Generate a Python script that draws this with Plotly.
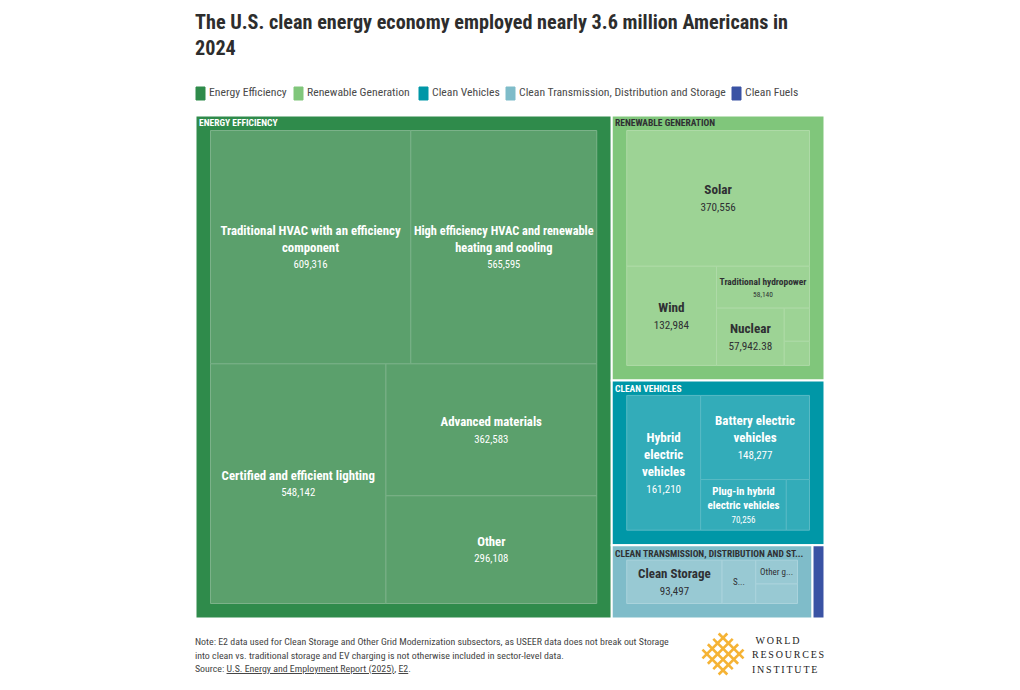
import plotly.graph_objects as go

W, H = 1020, 690
NARROW = "Roboto Condensed, Roboto, sans-serif"
DARK = "#2f3033"

# sectors
sectors = [
    "Energy Efficiency",
    "Renewable Generation",
    "Clean Vehicles",
    "Clean Transmission, Distribution and Storage",
    "Clean Fuels",
]
sector_headers = [
    "ENERGY EFFICIENCY",
    "RENEWABLE GENERATION",
    "CLEAN VEHICLES",
    "CLEAN TRANSMISSION, DISTRIBUTION AND ST...",
]
sector_colors = ["#2f8b4b", "#80c67b", "#0097a7", "#7fbcc9", "#3a53a4"]
leaf_colors = ["#5ba06c", "#9dd395", "#33acb9", "#98c9d3", "#3a53a4"]
line_colors = ["#7bb289", "#aedaa7", "#58bac5", "#aad3dc", "#ffffff"]
header_colors = ["#ffffff", DARK, "#ffffff", DARK]
leaf_text_colors = ["#ffffff", DARK, "#ffffff", DARK, DARK]

# subsectors, estimated for the ones with no visible number
ee_names = [
    "Traditional HVAC with an efficiency<br>component",
    "High efficiency HVAC and renewable<br>heating and cooling",
    "Certified and efficient lighting",
    "Advanced materials",
    "Other",
]
ee_values = [609316, 565595, 548142, 362583, 296108]
# the value 1 entry is an invisible spacer, it makes squarify close the hydropower row
rg_names = ["Solar", "Wind", "Traditional hydropower", None, "Nuclear", "", ""]
rg_values = [370556, 132984, 58140, 1, 57942.38, 12500, 9100]
cv_names = ["Hybrid<br>electric<br>vehicles", "Battery electric<br>vehicles", "Plug-in hybrid<br>electric vehicles", ""]
cv_values = [161210, 148277, 70256, 19000]
ct_names = ["Clean Storage", "S...", "Other g...", ""]
ct_values = [93497, 33000, 22500, 18500]
cf_value = 10000

ee_sizes = [12.8, 12.8, 12.8, 12.8, 12.8]
rg_sizes = [13.2, 13.2, 9.5, 0, 13.2, 9, 9]
cv_sizes = [13, 13, 11, 9]
ct_sizes = [13, 9, 9, 9]
groups = [
    (ee_names, ee_values, ee_sizes),
    (rg_names, rg_values, rg_sizes),
    (cv_names, cv_values, cv_sizes),
    (ct_names, ct_values, ct_sizes),
]

# note and source
note_lines = [
    "Note: E2 data used for Clean Storage and Other Grid Modernization subsectors, as USEER data does not break out Storage",
    "into clean vs. traditional storage and EV charging is not otherwise included in sector-level data.",
    "Source: <u>U.S. Energy and Employment Report (2025)</u>, <u>E2</u>.",
]
logo_words = ["WORLD", "RESOURCES", "INSTITUTE"]


def fmt(v):
    return f"{v:,.2f}" if v != int(v) else f"{int(v):,}"


def leaf_text(name, value, size):
    if not name:
        return ""
    if "..." in name:
        return name
    return f"<b>{name}</b><br><span style='font-size:{size - 2}px'>{fmt(value)}</span>"


# build the hierarchy
ids, labels, parents, values, colors, texts = ["root"], [""], [""], [0], ["rgba(0,0,0,0)"], [""]
line_w, line_c, font_c, font_s = [0], ["rgba(0,0,0,0)"], [DARK], [10]

for i, (names, vals, sizes) in enumerate(groups):
    ids.append(sectors[i])
    # plotly centres branch labels, the headers go in as annotations
    labels.append("")
    parents.append("root")
    values.append(sum(vals))
    colors.append(sector_colors[i])
    texts.append("")
    line_w.append(2)
    line_c.append("#ffffff")
    font_c.append(DARK)
    font_s.append(10)
    for j, (n, v, s) in enumerate(zip(names, vals, sizes)):
        ids.append(f"{sectors[i]}-{j}")
        labels.append(n or f"{sectors[i]} {j}")
        parents.append(sectors[i])
        values.append(v)
        colors.append(leaf_colors[i])
        texts.append(leaf_text(n, v, s))
        line_w.append(0 if n is None else 1)
        line_c.append(line_colors[i])
        font_c.append(leaf_text_colors[i])
        font_s.append(s or 9)

ids.append(sectors[4])
labels.append(sectors[4])
parents.append("root")
values.append(cf_value)
colors.append(sector_colors[4])
texts.append("")
line_w.append(2)
line_c.append("#ffffff")
font_c.append(DARK)
font_s.append(10)
values[0] = sum(values[i] for i, p in enumerate(parents) if p == "root")

PAD = 15
fig = go.Figure(
    go.Treemap(
        ids=ids,
        labels=labels,
        parents=parents,
        values=values,
        text=texts,
        textinfo="text",
        branchvalues="total",
        sort=False,
        textposition="middle center",
        hoverinfo="label+value",
        marker=dict(
            colors=colors,
            line=dict(width=line_w, color=line_c),
            pad=dict(t=PAD, l=PAD, r=PAD, b=PAD),
            depthfade=False,
        ),
        tiling=dict(pad=0, packing="squarify"),
        pathbar=dict(visible=False),
        textfont=dict(family=NARROW, size=font_s, color=font_c),
        domain=dict(
            x=[(195.5 - PAD) / W, (824.5 + PAD) / W],
            y=[1 - (618.5 + PAD) / H, 1 - (115.5 - PAD) / H],
        ),
    )
)


def px(x):
    return x / W


def py(y):
    return 1 - y / H


annotations = []
shapes = []

# legend
legend_swatch_x = [196, 294, 419, 506, 732]
for name, color, sx in zip(sectors, sector_colors, legend_swatch_x):
    shapes.append(
        dict(type="rect", xref="paper", yref="paper", x0=px(sx), x1=px(sx + 9), y0=py(100), y1=py(87),
             fillcolor=color, line=dict(width=1, color=color))
    )
    annotations.append(
        dict(text=name, xref="paper", yref="paper", x=px(sx + 11), y=py(92), xanchor="left", yanchor="middle",
             showarrow=False, font=dict(family=NARROW, size=11.7, color="#4a4a4a"))
    )

# sector headers
header_x = [197, 613, 613, 613]
header_y = [123, 123, 388, 553]
for text, color, hx, hy in zip(sector_headers, header_colors, header_x, header_y):
    annotations.append(
        dict(text=f"<b>{text}</b>", xref="paper", yref="paper", x=px(hx), y=py(hy), xanchor="left", yanchor="middle",
             showarrow=False, font=dict(family=NARROW, size=9.5, color=color))
    )

# footer
for line, y in zip(note_lines, [641, 655, 669]):
    annotations.append(
        dict(text=line, xref="paper", yref="paper", x=px(193), y=py(y), xanchor="left", yanchor="middle",
             showarrow=False, font=dict(family=NARROW, size=9.9, color="#444444"))
    )

# logo lattice
cx, cy, step = 723, 654, 5.4
for k in [-1.5, -0.5, 0.5, 1.5]:
    a, b = -2.3, 2.3
    shapes.append(dict(type="line", xref="paper", yref="paper",
                       x0=px(cx + (a + k) * step), y0=py(cy + (a - k) * step),
                       x1=px(cx + (b + k) * step), y1=py(cy + (b - k) * step),
                       line=dict(color="#f5b335", width=2.6)))
    shapes.append(dict(type="line", xref="paper", yref="paper",
                       x0=px(cx + (a + k) * step), y0=py(cy - (a - k) * step),
                       x1=px(cx + (b + k) * step), y1=py(cy - (b - k) * step),
                       line=dict(color="#f5b335", width=2.6)))
for word, y in zip(logo_words, [640, 654, 669]):
    annotations.append(
        dict(text=word, xref="paper", yref="paper", x=px(758), y=py(y), xanchor="left", yanchor="middle",
             showarrow=False, font=dict(family="Liberation Serif", size=10, color="#222222"))
    )

fig.update_layout(
    width=W,
    height=H,
    margin=dict(l=0, r=0, t=0, b=0),
    paper_bgcolor="white",
    showlegend=False,
    title=dict(
        text="<b>The U.S. clean energy economy employed nearly 3.6 million Americans in<br>2024</b>",
        x=px(195),
        xanchor="left",
        y=py(29),
        yanchor="middle",
        font=dict(family=NARROW, size=20.2, color="#2d2d2d"),
    ),
    annotations=annotations,
    shapes=shapes,
)

# the logo wordmark is letterspaced, plotly has no font option for that
post = """
document.body.style.margin = '0';
document.querySelectorAll('.annotation-text').forEach(function (t) {
    if (['WORLD', 'RESOURCES', 'INSTITUTE'].includes(t.textContent)) {
        t.style.letterSpacing = '1.8px';
    }
});
"""
fig.write_html("out.html", config=dict(displayModeBar=False), post_script=post)
